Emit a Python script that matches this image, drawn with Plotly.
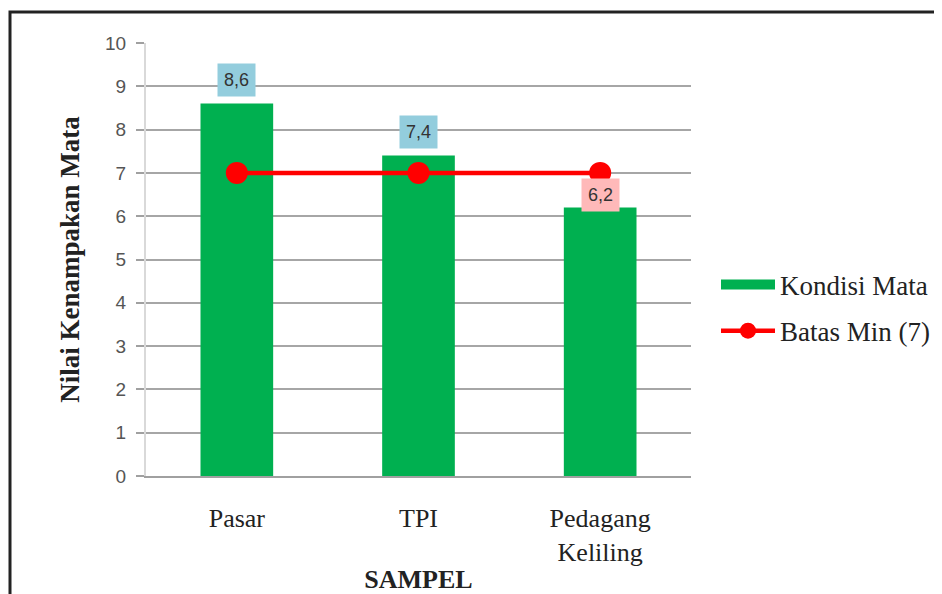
import plotly.graph_objects as go

categories = ["Pasar", "TPI", "Pedagang<br>Keliling"]
kondisi = [8.6, 7.4, 6.2]
batas = [7, 7, 7]
labels = ["8,6", "7,4", "6,2"]
label_bg = ["#93cddd", "#93cddd", "#ffb9b9"]
label_shift = [24, 24, 13]

# page body has an 8px margin, so the figure is offset by 8px
OFF = 8
W, H = 942 - OFF, 594 - OFF
L, R, T, B = 146 - OFF, 691 - OFF, 43 - OFF, 476 - OFF

SERIF = "Liberation Serif, Times New Roman"
SANS = "Liberation Sans, Arial"
GREEN = "#00b050"
RED = "#ff0000"

fig = go.Figure()
fig.add_trace(go.Bar(
    x=categories, y=kondisi, name="Kondisi Mata",
    marker=dict(color=GREEN, line=dict(width=0)),
    width=0.4, showlegend=False))
# legend entry drawn as a wide green block (Excel style)
fig.add_trace(go.Scatter(
    x=[None], y=[None], name="Kondisi Mata", mode="lines",
    line=dict(color=GREEN, width=13), legendgroup="a"))
fig.add_trace(go.Scatter(
    x=categories, y=batas, name="Batas Min (7)", mode="lines+markers",
    line=dict(color=RED, width=4.5),
    marker=dict(color=RED, size=22), legendgroup="b"))

for c, v, t, bg, s in zip(categories, kondisi, labels, label_bg, label_shift):
    fig.add_annotation(x=c, y=v, text=t, showarrow=False, yshift=s,
                       bgcolor=bg, borderpad=6,
                       font=dict(family=SANS, size=18, color="#333333"))

def px_x(p):
    return (p - OFF - L) / (R - L)

def px_y(p):
    return (B - (p - OFF)) / (B - T)

fig.add_shape(type="path", xref="paper", yref="paper",
              path=f"M {px_x(10)} {px_y(700)} L {px_x(10)} {px_y(12)} L {px_x(1000)} {px_y(12)}",
              line=dict(color="#222222", width=3))

fig.update_layout(
    width=W, height=H,
    margin=dict(l=L, r=W - R, t=T, b=H - B, autoexpand=False),
    paper_bgcolor="white", plot_bgcolor="white",
    bargap=0.6,
    showlegend=True,
    legend=dict(x=px_x(716), y=px_y(308), xanchor="left", yanchor="middle",
                font=dict(family=SERIF, size=27, color="#222222"),
                traceorder="grouped", tracegroupgap=8, itemwidth=54),
    xaxis=dict(
        showgrid=False, showline=True, linecolor="#a0a0a0", linewidth=1.5,
        ticks="", ticklabelstandoff=18, automargin=False,
        tickfont=dict(family=SERIF, size=26, color="#222222"),
        title=dict(text="<b>SAMPEL</b>", standoff=12,
                   font=dict(family=SERIF, size=26, color="#222222")),
    ),
    yaxis=dict(
        range=[0, 10], dtick=1, automargin=False,
        showgrid=True, gridcolor="#a6a6a6", gridwidth=1.5,
        showline=True, linecolor="#d9d9d9", linewidth=2,
        ticks="outside", ticklen=8, tickcolor="#a0a0a0", tickwidth=1.5,
        ticklabelstandoff=6,
        tickfont=dict(family=SANS, size=19, color="#555555"),
        zeroline=False,
        title=dict(text="<b>Nilai Kenampakan Mata</b>", standoff=18,
                   font=dict(family=SERIF, size=27, color="#222222")),
    ),
)

fig.write_html("out.html")
